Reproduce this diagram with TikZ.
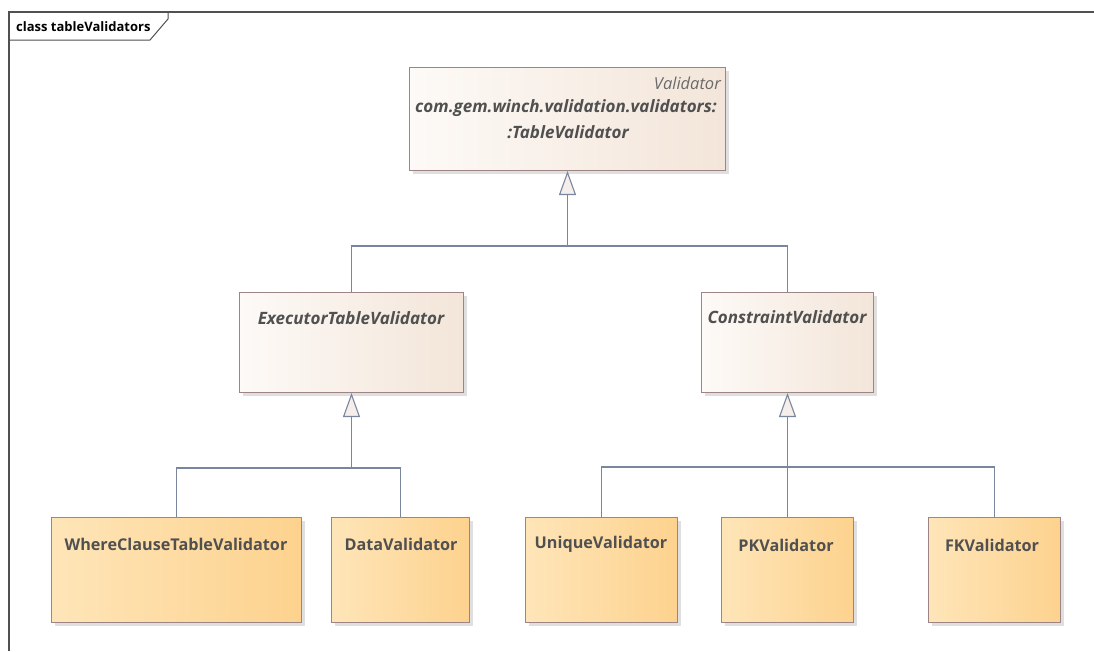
\documentclass[tikz,border=0pt]{standalone}
\usepackage{fontspec}
\setmainfont{Open Sans}
\usetikzlibrary{arrows.meta,shadows,calc}
\definecolor{linec}{HTML}{7A869E}
\definecolor{boxb}{HTML}{9E8585}
\definecolor{txt}{HTML}{505050}
\definecolor{absL}{HTML}{FDFAF7}
\definecolor{absR}{HTML}{F3E5D9}
\definecolor{conL}{HTML}{FEE5B8}
\definecolor{conR}{HTML}{FDD28E}
\definecolor{trif}{HTML}{F6EEEA}
\definecolor{framec}{HTML}{505050}
\tikzset{
  basebox/.style={draw=boxb, line width=1pt, anchor=north west, inner sep=0pt,
    drop shadow={shadow xshift=3.5pt, shadow yshift=-3.5pt, fill=black!18, opacity=0.7}},
  absbox/.style={basebox, left color=absL, right color=absR},
  conbox/.style={basebox, left color=conL, right color=conR},
  lbl/.style={text=txt, font=\fontsize{16.2}{19}\selectfont\bfseries, inner sep=0pt},
  ilbl/.style={lbl, font=\fontsize{17}{20}\selectfont\bfseries\itshape},
  conn/.style={draw=linec, line width=1.1pt},
  gen/.style={conn, -{Triangle[length=24pt, width=17pt, fill=trif, line join=miter]}},
}
\begin{document}
\begin{tikzpicture}[x=1pt, y=-1pt]
\useasboundingbox (0,0) rectangle (1094,651);
% frame
\draw[framec, line width=1.3pt] (9,651) -- (9,12) -- (1094,12);
\draw[framec, line width=1pt] (9,40) -- (150,40) -- (168,19) -- (168,12);
\node[text=black, font=\fontsize{13}{15}\selectfont\bfseries, anchor=west, inner sep=0pt] (title) at (16,26.5) {class tableValidators};

% boxes
\node[absbox, minimum width=316pt, minimum height=103pt] (v) at (409,67) {};
\node[absbox, minimum width=224pt, minimum height=100pt] (e) at (239,292) {};
\node[absbox, minimum width=172pt, minimum height=100pt] (c) at (701,292) {};
\node[conbox, minimum width=250pt, minimum height=105pt] (w) at (51,517) {};
\node[conbox, minimum width=138pt, minimum height=105pt] (d) at (331,517) {};
\node[conbox, minimum width=152pt, minimum height=105pt] (u) at (525,517) {};
\node[conbox, minimum width=132pt, minimum height=105pt] (p) at (721,517) {};
\node[conbox, minimum width=132pt, minimum height=105pt] (f) at (928,517) {};

% labels
\node[text=txt!85, font=\fontsize{16.5}{19}\selectfont\itshape, anchor=east, inner sep=0pt] (vst) at (721,83) {Validator};
\node[ilbl] (vl1) at (566,108) {com.gem.winch.validation.validators:};
\node[ilbl] (vl2) at (568,132) {:TableValidator};
\node[ilbl] (el) at (351,318) {ExecutorTableValidator};
\node[ilbl] (cl) at (787,317) {ConstraintValidator};
\node[lbl] (wl) at (176,544) {WhereClauseTableValidator};
\node[lbl] (dl) at (401,544) {DataValidator};
\node[lbl] (ul) at (601,544) {UniqueValidator};
\node[lbl] (pl) at (786,545) {PKValidator};
\node[lbl] (fl) at (992,545) {FKValidator};

% connectors
\coordinate (j1) at ($(v.south)+(0,75)$);
\draw[conn] (e.north) |- (j1) -| (c.north);
\draw[gen] (j1) -- (v.south);

\coordinate (j2) at ($(e.south)+(0,75)$);
\draw[conn] (w.north) |- (j2) -| (d.north);
\draw[gen] (j2) -- (e.south);

\coordinate (j3) at ($(c.south)+(0,74)$);
\draw[conn] (u.north) |- (j3) -| (f.north);
\draw[conn] (p.north) -- (p.north |- j3);
\draw[gen] (j3) -- (c.south);
\end{tikzpicture}
\end{document}
